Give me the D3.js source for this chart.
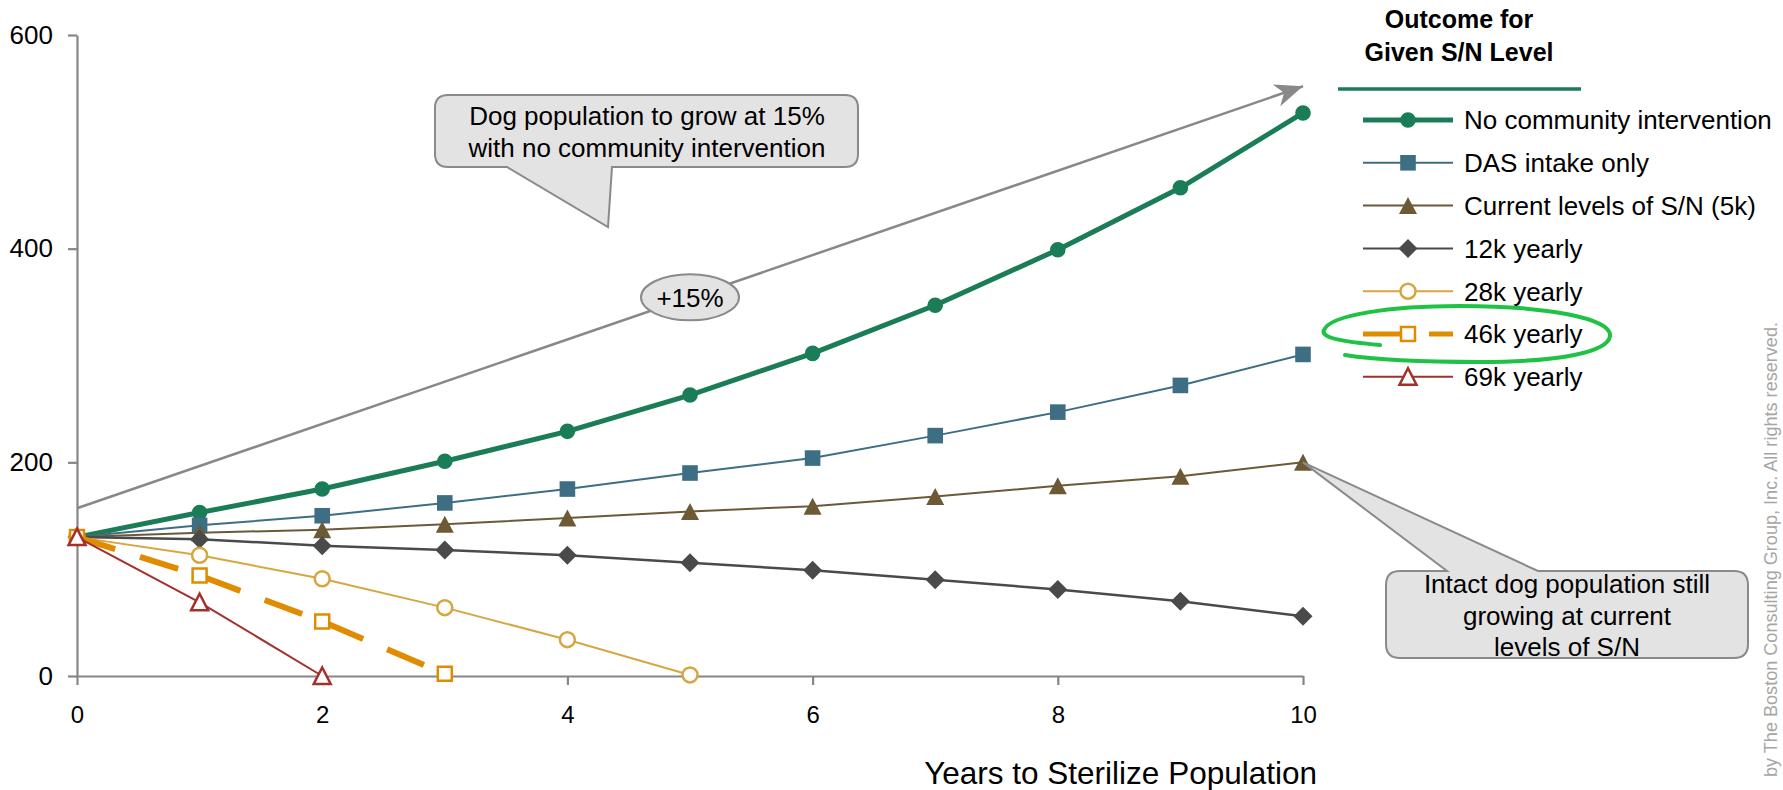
<!DOCTYPE html>
<html><head><meta charset="utf-8">
<script src="https://cdn.jsdelivr.net/npm/d3@7"></script>
<style>body{margin:0;background:#fff;} svg{display:block;font-family:"Liberation Sans",Arial,sans-serif;}</style>
</head><body><svg id="c" width="1783" height="790"></svg>
<script>
// ---------- data ----------
const years = [0,1,2,3,4,5,6,7,8,9,10];
const noIntervention = [130,153,175,201,229,263,302,347,399,457,527];
const dasIntake      = [130,141,150,162,175,190,204,225,247,272,301];
const currentLevels  = [130,134,137,142,148,154,159,168,178,187,200];
const yearly12k      = [130,128,122,118,113,106,99,90,81,70,56];
const yearly28k      = [130,113,91,64,34,1];
const yearly46k      = [130,94,51,2];
const yearly69k      = [130,69,0];
const seriesNames = ["No community intervention","DAS intake only","Current levels of S/N (5k)","12k yearly","28k yearly","46k yearly","69k yearly"];
const xTicks = [0,2,4,6,8,10];
const yTicks = [0,200,400,600];
const trendYears = [0,10];
const trendValues = [157,552];
const trendLabel = "+15%";
const legendTitle = ["Outcome for","Given S/N Level"];
const callout1 = ["Dog population to grow at 15%","with no community intervention"];
const callout2 = ["Intact dog population still","growing at current","levels of S/N"];
const xTitle = "Years to Sterilize Population";
const copyright = "by The Boston Consulting Group, Inc. All rights reserved.";

// ---------- styles ----------
const seriesData = [noIntervention,dasIntake,currentLevels,yearly12k,yearly28k,yearly46k,yearly69k];
const styles = [
  {color:"#1a7d57", width:5,   marker:"circle",   filled:true},
  {color:"#3e6e83", width:2,   marker:"square",   filled:true},
  {color:"#6b5a35", width:2,   marker:"triangle", filled:true},
  {color:"#4a4a4a", width:2.5, marker:"diamond",  filled:true},
  {color:"#d6a640", width:2,   marker:"circle",   filled:false},
  {color:"#e08c00", width:6,   marker:"square",   filled:false, dash:"40,26"},
  {color:"#a3302a", width:2,   marker:"triangle", filled:false}
];
const FONT = "'Liberation Sans', Arial, sans-serif";
const GRAY = "#868686";
const BOXFILL = "#e3e3e3", BOXSTROKE = "#8a8a8a";

function markerPath(type, filled){
  if(type==="circle"){ const r=filled?7.8:7.5; return `M${-r},0A${r},${r} 0 1,0 ${r},0A${r},${r} 0 1,0 ${-r},0Z`; }
  if(type==="square"){ const s=filled?7.8:7; return `M${-s},${-s}H${s}V${s}H${-s}Z`; }
  if(type==="triangle"){ return filled? "M0,-8.5L9,8.5L-9,8.5Z" : "M0,-8.5L8.5,8L-8.5,8Z"; }
  if(type==="diamond"){ return "M0,-9.5L9.5,0L0,9.5L-9.5,0Z"; }
}

const svg = d3.select("#c");
const x = d3.scaleLinear().domain([0,10]).range([77,1303]);
const y = d3.scaleLinear().domain([0,600]).range([676,35]);

// ---------- axes ----------
const gy = svg.append("g").attr("transform","translate(77,0)")
  .call(d3.axisLeft(y).tickValues(yTicks).tickSize(9).tickSizeOuter(0).tickPadding(15));
const gx = svg.append("g").attr("transform","translate(0,676)")
  .call(d3.axisBottom(x).tickValues(xTicks).tickSize(9).tickSizeOuter(0).tickPadding(21));
[gy,gx].forEach(g=>{
  g.attr("font-family",FONT);
  g.select(".domain").attr("stroke",GRAY).attr("stroke-width",2.2);
  g.selectAll(".tick line").attr("stroke",GRAY).attr("stroke-width",2.2);
  g.selectAll(".tick text").attr("fill","#000");
});
gy.selectAll(".tick text").attr("font-size",26);
gx.selectAll(".tick text").attr("font-size",24);

svg.append("text").attr("x",1317).attr("y",784).attr("text-anchor","end")
  .attr("font-size",31.5).attr("font-family",FONT).attr("fill","#000").text(xTitle);

// ---------- trend arrow ----------
const defs = svg.append("defs");
defs.append("marker").attr("id","arr").attr("markerUnits","userSpaceOnUse")
  .attr("viewBox","-30 -12 32 24").attr("refX",0).attr("refY",0)
  .attr("markerWidth",32).attr("markerHeight",24).attr("orient","auto")
  .append("path").attr("d","M0,0L-28,-11.5L-20,0L-28,11.5Z").attr("fill","#888");

svg.append("line")
  .attr("x1",x(trendYears[0])).attr("y1",y(trendValues[0]))
  .attr("x2",x(trendYears[1])).attr("y2",y(trendValues[1]))
  .attr("stroke","#888").attr("stroke-width",2.5).attr("marker-end","url(#arr)");

const midYear = (trendYears[0]+trendYears[1])/2;
const midVal = (trendValues[0]+trendValues[1])/2;
svg.append("ellipse").attr("cx",x(midYear)).attr("cy",y(midVal)).attr("rx",49).attr("ry",23)
  .attr("fill",BOXFILL).attr("stroke",BOXSTROKE).attr("stroke-width",2);
svg.append("text").attr("x",x(midYear)).attr("y",y(midVal)).attr("dy","0.36em")
  .attr("text-anchor","middle").attr("font-size",26).attr("font-family",FONT).text(trendLabel);

// ---------- series ----------
const line = d3.line().x((d,i)=>x(years[i])).y(d=>y(d));
seriesData.forEach((vals,si)=>{
  const st = styles[si];
  const g = svg.append("g");
  g.append("path").attr("d",line(vals)).attr("fill","none").attr("stroke",st.color)
    .attr("stroke-width",st.width).attr("stroke-linejoin","round")
    .attr("stroke-dasharray",st.dash||null);
  g.selectAll("path.m").data(vals).join("path").attr("class","m")
    .attr("transform",(d,i)=>`translate(${x(years[i])},${y(d)})`)
    .attr("d",markerPath(st.marker,st.filled))
    .attr("fill",st.filled?st.color:"#fff")
    .attr("stroke",st.filled?"none":st.color)
    .attr("stroke-width",st.filled?0:2.5);
});

// ---------- callouts ----------
function roundRectWithTail(L,T,R,B,r,tail){
  let p = `M${L+r},${T}`;
  if(tail.side==="top") p += `H${tail.a}L${tail.tx},${tail.ty}L${tail.b},${T}`;
  p += `H${R-r}Q${R},${T} ${R},${T+r}V${B-r}Q${R},${B} ${R-r},${B}`;
  if(tail.side==="bottom") p += `H${tail.b}L${tail.tx},${tail.ty}L${tail.a},${B}`;
  p += `H${L+r}Q${L},${B} ${L},${B-r}V${T+r}Q${L},${T} ${L+r},${T}Z`;
  return p;
}
svg.append("path").attr("d",roundRectWithTail(435,95,858,167,13,{side:"bottom",a:507,b:612,tx:608,ty:227}))
  .attr("fill",BOXFILL).attr("stroke",BOXSTROKE).attr("stroke-width",2);
svg.append("g").selectAll("text").data(callout1).join("text")
  .attr("x",647).attr("y",(d,i)=>125+i*32).attr("text-anchor","middle")
  .attr("font-size",26).attr("font-family",FONT).text(d=>d);

svg.append("path").attr("d",roundRectWithTail(1386,571,1748,658,14,{side:"top",a:1447,b:1538,tx:x(10),ty:y(currentLevels[10])}))
  .attr("fill",BOXFILL).attr("stroke",BOXSTROKE).attr("stroke-width",2);
svg.append("g").selectAll("text").data(callout2).join("text")
  .attr("x",1567).attr("y",(d,i)=>593+i*31.7).attr("text-anchor","middle")
  .attr("font-size",26).attr("font-family",FONT).text(d=>d);

// ---------- legend ----------
svg.append("g").selectAll("text").data(legendTitle).join("text")
  .attr("x",1459).attr("y",(d,i)=>28+i*32.5).attr("text-anchor","middle")
  .attr("font-size",25).attr("font-weight","bold").attr("font-family",FONT).text(d=>d);
svg.append("line").attr("x1",1338).attr("x2",1581).attr("y1",89).attr("y2",89)
  .attr("stroke","#1e7b5a").attr("stroke-width",3.5);

seriesNames.forEach((name,si)=>{
  const st = styles[si];
  const cy = 120 + si*42.8;
  const g = svg.append("g");
  g.append("line").attr("x1",1363).attr("x2",1453).attr("y1",cy).attr("y2",cy)
    .attr("stroke",st.color).attr("stroke-width",st.dash?5:(si===0?5:2))
    .attr("stroke-dasharray",st.dash?"37,29,30":null);
  g.append("path").attr("transform",`translate(1408,${cy})`).attr("d",markerPath(st.marker,st.filled))
    .attr("fill",st.filled?st.color:"#fff").attr("stroke",st.filled?"none":st.color)
    .attr("stroke-width",st.filled?0:2.5);
  g.append("text").attr("x",1464).attr("y",cy).attr("dy","0.36em")
    .attr("font-size",26).attr("font-family",FONT).attr("fill","#000").text(name);
});

// highlight ellipse around "46k yearly"
svg.append("path")
  .attr("d","M1380,345 C1345,342 1320,338 1324,330 C1330,315 1390,306 1460,306 C1545,306 1612,318 1610,336 C1608,352 1560,362 1480,362 C1420,362 1370,359 1345,355")
  .attr("fill","none").attr("stroke","#1ec244").attr("stroke-width",4).attr("stroke-linecap","round");

// copyright
svg.append("text").attr("transform","translate(1777,322) rotate(-90)")
  .attr("text-anchor","end").attr("font-size",18.5).attr("font-family",FONT)
  .attr("textLength",455).attr("lengthAdjust","spacingAndGlyphs")
  .attr("fill","#a6a6a6").text(copyright);
</script></body></html>
